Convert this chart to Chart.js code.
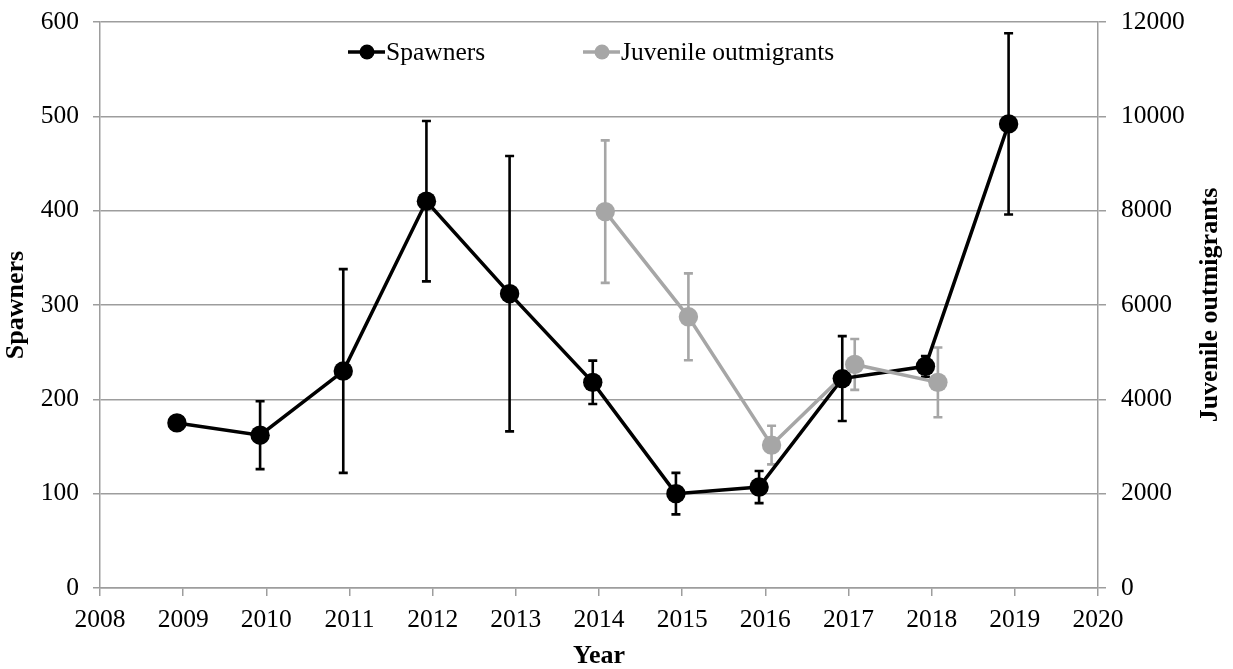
<!DOCTYPE html>
<html>
<head>
<meta charset="utf-8">
<script src="https://cdn.jsdelivr.net/npm/chart.js@4.4.1/dist/chart.umd.min.js"></script>
<style>
  html, body { margin: 0; padding: 0; background: #fff; }
  #wrap { width: 1233px; height: 669px; }
</style>
</head>
<body>
<div id="wrap"><canvas id="fishChart"></canvas></div>
<script>
// ---- data ----
const spawnerYears = [2009, 2010, 2011, 2012, 2013, 2014, 2015, 2016, 2017, 2018, 2019];
const spawners     = [175, 162, 230, 410, 312, 218, 100, 107, 222, 235, 492];
const spawnerErr   = [7, 36, 108, 85, 146, 23, 22, 17, 45, 11, 96];

const juvenileYears = [2014, 2015, 2016, 2017, 2018];
const juveniles     = [7980, 5750, 3030, 4740, 4360];
const juvenileErr   = [1510, 920, 410, 540, 740];

// ---- styling ----
const BLACK = "#000000";
const GREY = "#a6a6a6";
const GRID = "#9d9d9d";
const SERIF = "'Liberation Serif', 'Times New Roman', serif";
const DODGE = 0.075; // spawners sit just left of the year, juveniles just right

const toPoints = (xs, ys, shift) => xs.map((x, i) => ({ x: x + shift, y: ys[i] }));
const spawnerPts = toPoints(spawnerYears, spawners, -DODGE);
const juvenilePts = toPoints(juvenileYears, juveniles, DODGE);

// vertical error bars with caps, drawn under the lines
const errorBars = {
  id: "errorBars",
  beforeDatasetsDraw(chart) {
    const { ctx } = chart;
    const xs = chart.scales.x;
    const sets = [
      { pts: spawnerPts, err: spawnerErr, axis: chart.scales.y, color: BLACK },
      { pts: juvenilePts, err: juvenileErr, axis: chart.scales.y1, color: GREY }
    ];
    ctx.save();
    ctx.lineWidth = 2.6;
    sets.forEach(s => {
      ctx.strokeStyle = s.color;
      s.pts.forEach((p, i) => {
        const px = xs.getPixelForValue(p.x);
        const top = s.axis.getPixelForValue(p.y + s.err[i]);
        const bot = s.axis.getPixelForValue(p.y - s.err[i]);
        ctx.beginPath();
        ctx.moveTo(px, top); ctx.lineTo(px, bot);
        ctx.moveTo(px - 4.5, top); ctx.lineTo(px + 4.5, top);
        ctx.moveTo(px - 4.5, bot); ctx.lineTo(px + 4.5, bot);
        ctx.stroke();
      });
    });
    ctx.restore();
  }
};

// legend inside the plot, top centre, plus the right axis title read bottom-up
const annotations = {
  id: "annotations",
  afterDraw(chart) {
    const { ctx, chartArea } = chart;
    const items = [
      { label: "Spawners", color: BLACK, x: 367 },
      { label: "Juvenile outmigrants", color: GREY, x: 602 }
    ];
    const y = 52;
    ctx.save();
    ctx.font = "25.5px " + SERIF;
    ctx.textBaseline = "middle";
    items.forEach(it => {
      ctx.strokeStyle = it.color;
      ctx.fillStyle = it.color;
      ctx.lineWidth = 3.5;
      ctx.beginPath();
      ctx.moveTo(it.x - 19, y); ctx.lineTo(it.x + 18, y);
      ctx.stroke();
      ctx.beginPath();
      ctx.arc(it.x, y, 7.5, 0, Math.PI * 2);
      ctx.fill();
      ctx.fillStyle = "#000";
      ctx.fillText(it.label, it.x + 19, y + 1);
    });

    ctx.translate(1210, (chartArea.top + chartArea.bottom) / 2);
    ctx.rotate(-Math.PI / 2);
    ctx.font = "bold 26px " + SERIF;
    ctx.textAlign = "center";
    ctx.fillStyle = "#000";
    ctx.fillText("Juvenile outmigrants", 0, 0);
    ctx.restore();
  }
};

const lineSet = (data, color, axis, order) => ({
  data, yAxisID: axis, order,
  showLine: true, borderColor: color, borderWidth: 3.5,
  pointRadius: 0, pointHoverRadius: 0
});
const markerSet = (data, color, axis, order) => ({
  data, yAxisID: axis, order,
  showLine: false, backgroundColor: color, borderColor: color,
  pointRadius: 9.7, pointBorderWidth: 0, pointHoverRadius: 9.7
});

// fixed axis boxes so the plot area lands where it should
const fixWidth = w => s => { s.width = w; s.paddingTop = 0; s.paddingBottom = 0; };

new Chart(document.getElementById("fishChart"), {
  type: "scatter",
  data: {
    datasets: [
      lineSet(spawnerPts, BLACK, "y", 3),
      lineSet(juvenilePts, GREY, "y1", 2),
      markerSet(spawnerPts, BLACK, "y", 1),
      markerSet(juvenilePts, GREY, "y1", 0)
    ]
  },
  options: {
    responsive: true,
    maintainAspectRatio: false,
    animation: false,
    layout: { padding: { top: 22, left: 0, right: 0, bottom: 0 } },
    plugins: { legend: { display: false }, tooltip: { enabled: false } },
    scales: {
      x: {
        type: "linear", min: 2008, max: 2020,
        afterFit: s => { s.height = 81; s.paddingLeft = 0; s.paddingRight = 0; },
        grid: { drawOnChartArea: false, drawTicks: true, tickLength: 8, color: GRID, lineWidth: 1.5 },
        border: { color: GRID, width: 1.5 },
        ticks: { stepSize: 1, color: "#000", padding: 9, font: { family: SERIF, size: 25.5 }, callback: v => String(v) },
        title: { display: true, text: "Year", color: "#000", padding: { top: 0, bottom: -3 }, font: { family: SERIF, size: 26, weight: "bold" } }
      },
      y: {
        position: "left", min: 0, max: 600,
        afterFit: fixWidth(100),
        grid: { color: GRID, lineWidth: 1.5, tickLength: 7 },
        border: { color: GRID, width: 1.5 },
        ticks: { stepSize: 100, color: "#000", padding: 14, font: { family: SERIF, size: 25.5 } },
        title: { display: true, text: "Spawners", color: "#000", padding: { top: 1, bottom: 0 }, font: { family: SERIF, size: 26, weight: "bold" } }
      },
      y1: {
        position: "right", min: 0, max: 12000,
        afterFit: fixWidth(135),
        grid: { drawOnChartArea: false, color: GRID, lineWidth: 1.5, tickLength: 8 },
        border: { color: GRID, width: 1.5 },
        ticks: { stepSize: 2000, color: "#000", padding: 15, font: { family: SERIF, size: 25.5 }, callback: v => String(v) }
      }
    }
  },
  plugins: [errorBars, annotations]
});
</script>
</body>
</html>
